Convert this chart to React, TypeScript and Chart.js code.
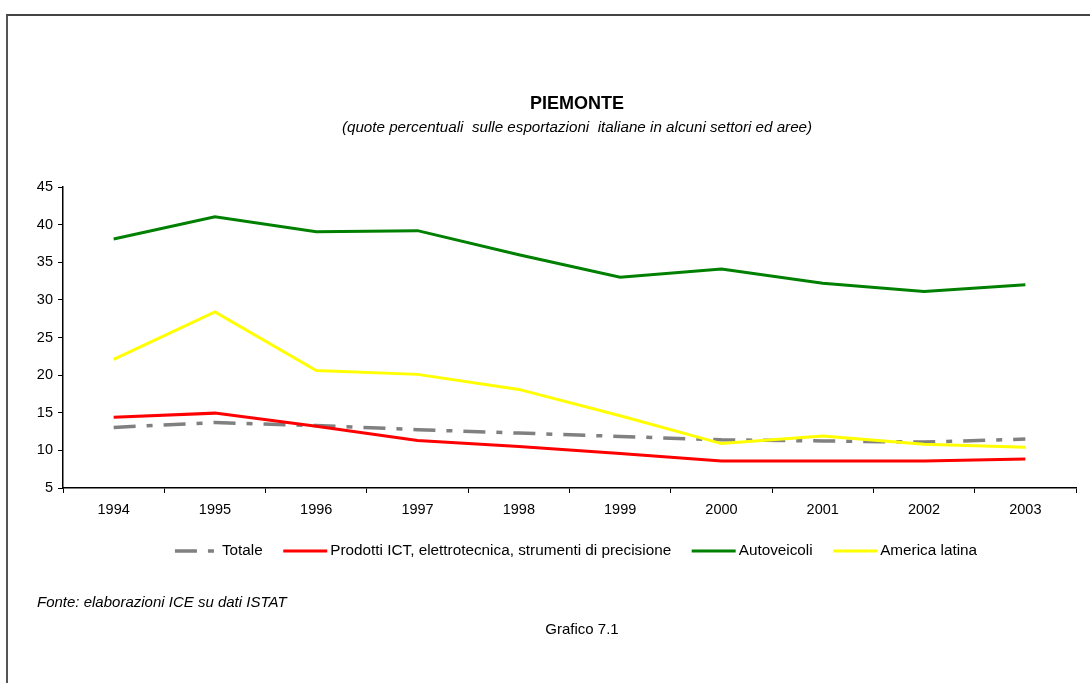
import React, { useEffect, useRef } from "react";
import { Chart, registerables } from "chart.js";

Chart.register(...registerables);

const FONT = '"Liberation Sans", Arial, Helvetica, sans-serif';

// ---- data ----
const years = ["1994", "1995", "1996", "1997", "1998", "1999", "2000", "2001", "2002", "2003"];
const totale = [13.05, 13.7, 13.3, 12.75, 12.3, 11.85, 11.4, 11.25, 11.1, 11.5];
const prodottiICT = [14.4, 14.95, 13.2, 11.3, 10.5, 9.6, 8.6, 8.6, 8.6, 8.85];
const autoveicoli = [38.1, 41.05, 39.05, 39.2, 36.0, 33.0, 34.1, 32.2, 31.1, 32.0];
const americaLatina = [22.1, 28.4, 20.6, 20.1, 18.1, 14.6, 10.9, 11.9, 10.8, 10.4];
const seriesLabels = [
  "Totale",
  "Prodotti ICT, elettrotecnica, strumenti di precisione",
  "Autoveicoli",
  "America latina",
];
const yMin = 5;
const yMax = 45;
const yStep = 5;

const titleText = "PIEMONTE";
const subtitleText = "(quote percentuali  sulle esportazioni  italiane in alcuni settori ed aree)";
const sourceText = "Fonte: elaborazioni ICE su dati ISTAT";
const captionText = "Grafico 7.1";

const LEGEND_CENTER_X = 576;
const LEGEND_Y = 551;

const legendPlugin = {
  id: "customLegend",
  afterDraw(chart: any) {
    const ctx = chart.ctx as CanvasRenderingContext2D;
    const ds = chart.data.datasets as any[];
    ctx.save();
    ctx.font = `15.3px ${FONT}`;
    const sample = 44;
    const gap = 3;
    const spacing = 20.5;
    const widths = ds.map((d) => ctx.measureText(d.label).width);
    const total =
      widths.reduce((a, w) => a + sample + gap + w, 0) + spacing * (ds.length - 1);
    let x = LEGEND_CENTER_X - total / 2;
    const y = LEGEND_Y;
    ds.forEach((d, i) => {
      ctx.beginPath();
      ctx.setLineDash(d.borderDash || []);
      ctx.lineWidth = d.borderWidth;
      ctx.strokeStyle = d.borderColor;
      ctx.lineCap = "butt";
      ctx.moveTo(x, y);
      ctx.lineTo(x + sample, y);
      ctx.stroke();
      ctx.setLineDash([]);
      ctx.fillStyle = "#000";
      ctx.textBaseline = "middle";
      ctx.textAlign = "left";
      ctx.fillText(d.label, x + sample + gap, y);
      x += sample + gap + widths[i] + spacing;
    });
    ctx.restore();
  },
};

export default function App() {
  const canvasRef = useRef<HTMLCanvasElement | null>(null);

  useEffect(() => {
    if (!canvasRef.current) return;
    const chart = new Chart(canvasRef.current, {
      type: "line",
      data: {
        labels: years,
        datasets: [
          {
            label: seriesLabels[0],
            data: totale,
            borderColor: "#808080",
            borderWidth: 3.5,
            borderDash: [22, 11, 6, 11],
            pointRadius: 0,
            tension: 0,
            fill: false,
            order: 4,
          },
          {
            label: seriesLabels[1],
            data: prodottiICT,
            borderColor: "#ff0000",
            borderWidth: 3,
            pointRadius: 0,
            tension: 0,
            fill: false,
            order: 3,
          },
          {
            label: seriesLabels[2],
            data: autoveicoli,
            borderColor: "#008000",
            borderWidth: 3,
            pointRadius: 0,
            tension: 0,
            fill: false,
            order: 2,
          },
          {
            label: seriesLabels[3],
            data: americaLatina,
            borderColor: "#ffff00",
            borderWidth: 3,
            pointRadius: 0,
            tension: 0,
            fill: false,
            order: 1,
          },
        ],
      },
      options: {
        responsive: false,
        animation: false,
        devicePixelRatio: 1,
        layout: { padding: { left: 0, right: 14, top: 187, bottom: 155 } },
        plugins: {
          legend: { display: false },
          title: { display: false },
          tooltip: { enabled: false },
        },
        scales: {
          x: {
            type: "category",
            offset: true,
            grid: {
              offset: true,
              drawOnChartArea: false,
              drawTicks: true,
              tickLength: 5,
              color: "#000",
              lineWidth: 1,
            },
            border: { color: "#000", width: 1.5 },
            ticks: {
              padding: 8,
              color: "#000",
              font: { family: FONT, size: 14.5 },
              maxRotation: 0,
              autoSkip: false,
            },
            afterFit: (s: any) => {
              s.height = 40;
            },
          },
          y: {
            min: yMin,
            max: yMax,
            ticks: {
              stepSize: yStep,
              padding: 5,
              color: "#000",
              font: { family: FONT, size: 14.5 },
            },
            grid: {
              drawOnChartArea: false,
              drawTicks: true,
              tickLength: 5,
              color: "#000",
              lineWidth: 1,
            },
            border: { color: "#000", width: 1.5 },
            afterFit: (s: any) => {
              s.width = 63;
            },
          },
        },
      },
      plugins: [legendPlugin],
    });
    return () => chart.destroy();
  }, []);

  const textBase: React.CSSProperties = {
    position: "absolute",
    fontFamily: FONT,
    color: "#000",
    whiteSpace: "pre",
    margin: 0,
  };

  return (
    <div
      style={{
        position: "absolute",
        left: 0,
        top: 0,
        width: 1090,
        height: 683,
        background: "#fff",
        overflow: "hidden",
      }}
    >
      <div
        style={{
          position: "absolute",
          left: 6,
          top: 14,
          width: 1200,
          height: 800,
          borderTop: "2px solid #444",
          borderLeft: "2px solid #555",
        }}
      />
      <canvas
        ref={canvasRef}
        width={1090}
        height={683}
        style={{ position: "absolute", left: 0, top: 0, width: 1090, height: 683 }}
      />
      <div
        style={{
          ...textBase,
          left: 577,
          top: 94,
          transform: "translateX(-50%)",
          fontSize: 18,
          lineHeight: "18px",
          fontWeight: "bold",
        }}
      >
        {titleText}
      </div>
      <div
        style={{
          ...textBase,
          left: 577,
          top: 119,
          transform: "translateX(-50%)",
          fontSize: 15.2,
          lineHeight: "15px",
          fontStyle: "italic",
        }}
      >
        {subtitleText}
      </div>
      <div
        style={{
          ...textBase,
          left: 37,
          top: 594,
          fontSize: 15,
          lineHeight: "15px",
          fontStyle: "italic",
        }}
      >
        {sourceText}
      </div>
      <div
        style={{
          ...textBase,
          left: 582,
          top: 621,
          transform: "translateX(-50%)",
          fontSize: 15,
          lineHeight: "15px",
        }}
      >
        {captionText}
      </div>
    </div>
  );
}
